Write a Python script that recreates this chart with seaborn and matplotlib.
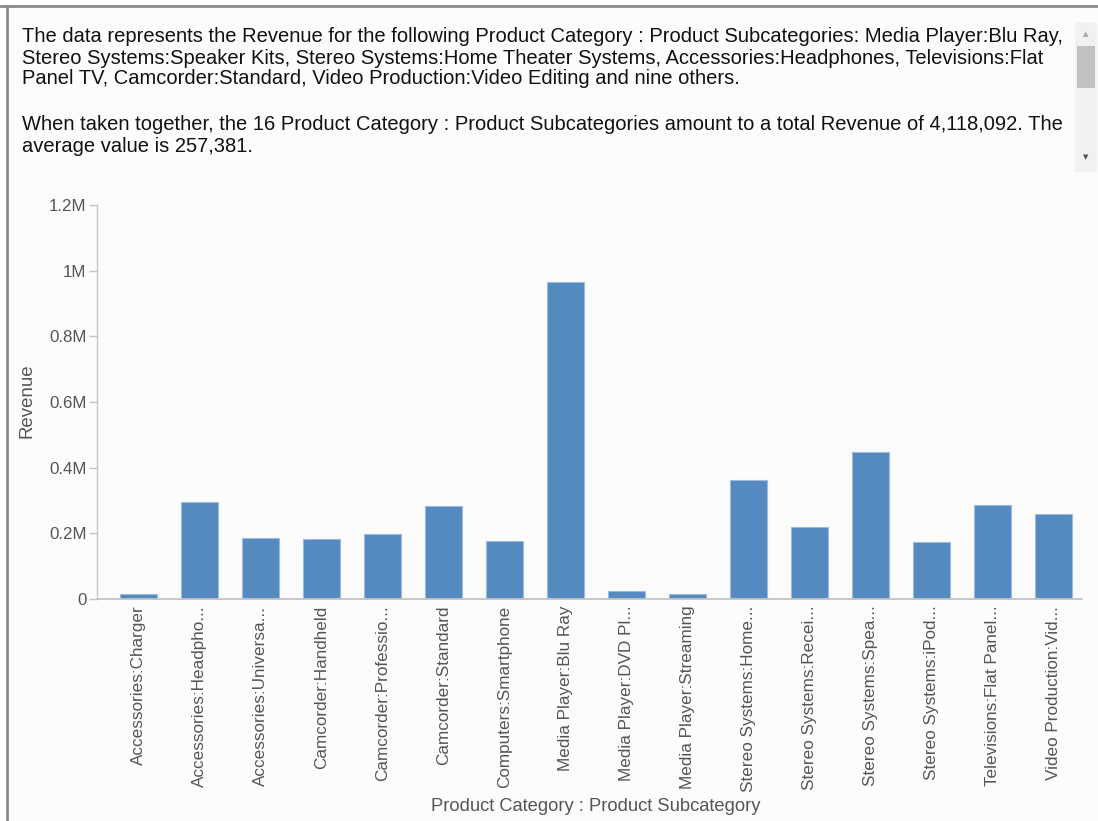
import matplotlib
matplotlib.use("Agg")
import matplotlib.pyplot as plt
import matplotlib.ticker as mticker
from matplotlib.lines import Line2D
from matplotlib.patches import Rectangle
import pandas as pd
import seaborn as sns

# values
categories = ["Accessories:Charger", "Accessories:Headphones", "Accessories:Universal Remote Controls",
              "Camcorder:Handheld", "Camcorder:Professional", "Camcorder:Standard",
              "Computers:Smartphone", "Media Player:Blu Ray", "Media Player:DVD Player",
              "Media Player:Streaming", "Stereo Systems:Home Theater Systems", "Stereo Systems:Receivers",
              "Stereo Systems:Speaker Kits", "Stereo Systems:iPod Docks", "Televisions:Flat Panel TV",
              "Video Production:Video Editing"]
tick_labels = ["Accessories:Charger", "Accessories:Headpho...", "Accessories:Universa...",
               "Camcorder:Handheld", "Camcorder:Professio...", "Camcorder:Standard",
               "Computers:Smartphone", "Media Player:Blu Ray", "Media Player:DVD Pl...",
               "Media Player:Streaming", "Stereo Systems:Home...", "Stereo Systems:Recei...",
               "Stereo Systems:Spea...", "Stereo Systems:iPod...", "Televisions:Flat Panel...",
               "Video Production:Vid..."]
revenue = [14300, 295000, 185000, 181000, 198000, 283500, 177000, 965000,
           22500, 14300, 363500, 219000, 449000, 172000, 284500, 257000]
y_ticks = [0, 200000, 400000, 600000, 800000, 1000000, 1200000]

summary_lines = [
    "The data represents the Revenue for the following Product Category : Product Subcategories: Media Player:Blu Ray,",
    "Stereo Systems:Speaker Kits, Stereo Systems:Home Theater Systems, Accessories:Headphones, Televisions:Flat",
    "Panel TV, Camcorder:Standard, Video Production:Video Editing and nine others.",
    "",
    "When taken together, the 16 Product Category : Product Subcategories amount to a total Revenue of 4,118,092. The",
    "average value is 257,381.",
]

df = pd.DataFrame({"cat": categories, "Revenue": revenue})

sns.set_style("white")
plt.rcParams["font.family"] = ["Liberation Sans", "DejaVu Sans"]

W, H = 1098, 821
fig = plt.figure(figsize=(W / 100, H / 100), dpi=100)
fig.patch.set_facecolor("white")
bg = "#fbfcfb"

# panel background and frame
fig.patches.append(Rectangle((7 / W, 0), 1, 1 - 7 / H, transform=fig.transFigure,
                             facecolor=bg, edgecolor="none", zorder=-5))
fig.lines.append(Line2D([0, 1], [1 - 6 / H, 1 - 6 / H], transform=fig.transFigure,
                        color="#8a8a8a", lw=2))
fig.lines.append(Line2D([7 / W, 7 / W], [0, 1 - 6 / H], transform=fig.transFigure,
                        color="#8a8a8a", lw=2))

# summary text
line_y = [37, 58, 79, 102, 125, 146]
for txt, yy in zip(summary_lines, line_y):
    if txt:
        fig.text(22 / W, 1 - yy / H, txt, fontsize=14.5, color="#111111", va="center", ha="left")

# scrollbar
fig.patches.append(Rectangle((1075 / W, 1 - 172 / H), 22 / W, 150 / H, transform=fig.transFigure,
                             facecolor="#f1f1f1", edgecolor="none"))
fig.patches.append(Rectangle((1077 / W, 1 - 88 / H), 18 / W, 42 / H, transform=fig.transFigure,
                             facecolor="#c1c1c1", edgecolor="none"))
fig.text(1086 / W, 1 - 34 / H, "\u25b2", fontsize=5, color="#a3a3a3", ha="center", va="center",
         family="DejaVu Sans")
fig.text(1086 / W, 1 - 157 / H, "\u25bc", fontsize=5, color="#505050", ha="center", va="center",
         family="DejaVu Sans")

# chart
ax = fig.add_axes([97 / W, 1 - 598.7 / H, (1082 - 97) / W, (598.7 - 205.3) / H])
ax.set_facecolor(bg)
sns.barplot(data=df, x="cat", y="Revenue", order=categories, color="#558ac0",
            saturation=1, width=0.606, edgecolor="#9dbbdc", linewidth=0.8, ax=ax)
ax.set_xlim(-0.677, 15.463)
ax.set_ylim(0, 1200000)
ax.set_yticks(y_ticks)
ax.yaxis.set_major_formatter(mticker.FuncFormatter(lambda v, p: "0" if v == 0 else f"{v / 1e6:g}M"))
ax.set_xticks(range(len(categories)))
ax.set_xticklabels(tick_labels, rotation=90, ha="center", va="top")

for s in ["top", "right"]:
    ax.spines[s].set_visible(False)
ax.spines["left"].set_color("#c4c4c4")
ax.spines["bottom"].set_color("#c4c4c4")
ax.spines["left"].set_linewidth(1)
ax.spines["bottom"].set_linewidth(1.3)
ax.tick_params(axis="y", length=5.5, width=1, color="#c4c4c4", labelcolor="#555555",
               labelsize=12.2, pad=2, left=True)
ax.tick_params(axis="x", length=0, labelcolor="#555555", labelsize=12.3, pad=5)

ax.set_ylabel("Revenue", fontsize=13.4, color="#555555")
ax.set_xlabel("Product Category : Product Subcategory", fontsize=13.2, color="#555555")
ax.xaxis.set_label_coords((596 - 97) / (1082 - 97), -(806 - 598.7) / (598.7 - 205.3))
ax.yaxis.set_label_coords(-(97 - 27) / (1082 - 97), (598.7 - 401) / (598.7 - 205.3))
ax.xaxis.label.set_va("center")
ax.yaxis.label.set_va("center")

fig.savefig("out.png", dpi=100, facecolor=fig.get_facecolor())
